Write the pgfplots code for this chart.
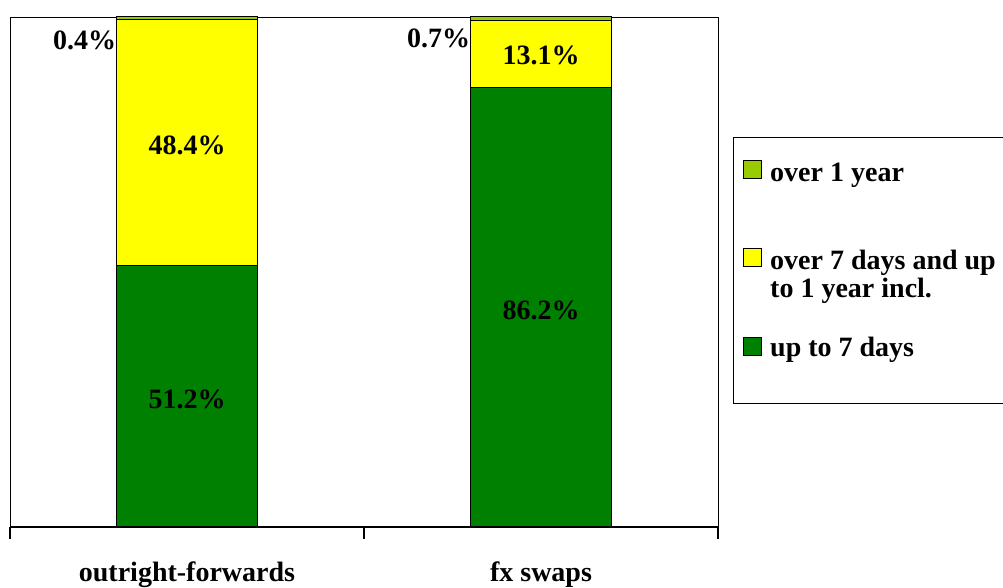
\documentclass[border=0pt]{standalone}
\usepackage{fontspec}
\setmainfont{Liberation Serif}
\usepackage{pgfplots}
\pgfplotsset{compat=1.18}
\definecolor{cgreen}{HTML}{008000}
\definecolor{cyellow}{HTML}{FFFF00}
\definecolor{clime}{HTML}{99CC00}
\newcommand\lblfont{\fontsize{28}{30}\selectfont\bfseries}
\begin{document}
\begin{tikzpicture}
\clip (0pt,0pt) rectangle (1003pt,588pt);
\begin{axis}[
  at={(10pt,61pt)}, anchor=south west,
  scale only axis, width=708pt, height=510pt,
  xmin=-0.5, xmax=1.5, ymin=0, ymax=100,
  ytick=\empty,
  xtick={-0.5,0.5,1.5}, xticklabels={},
  xtick pos=bottom, tick align=outside,
  major tick length=12pt,
  tick style={black, line width=2pt},
  axis line style={black, line width=0.8pt},
  ybar stacked, bar width=0.4,
  clip=false,
]
\addplot[fill=cgreen, draw=black, line width=1pt] coordinates {(0,51.2) (1,86.2)};
\addplot[fill=cyellow, draw=black, line width=1pt] coordinates {(0,48.4) (1,13.1)};
\addplot[fill=clime, draw=black, line width=1pt] coordinates {(0,0.4) (1,0.7)};
\draw[line width=2.6pt] (rel axis cs:0,0) -- (rel axis cs:1,0);
\coordinate (a1) at (axis cs:0,25.1);
\coordinate (a2) at (axis cs:0,74.9);
\coordinate (b1) at (axis cs:1,42.4);
\coordinate (b2) at (axis cs:1,92.4);
\coordinate (a3) at (axis cs:-0.2,100);
\coordinate (b3) at (axis cs:0.8,100);
\coordinate (ca) at (axis cs:0,0);
\coordinate (cb) at (axis cs:1,0);
\end{axis}
\node[font=\lblfont] at (a1) {51.2\%};
\node[font=\lblfont] at (a2) {48.4\%};
\node[font=\lblfont] at (b1) {86.2\%};
\node[font=\lblfont] at (b2) {13.1\%};
\node[font=\lblfont, anchor=east, inner sep=0pt, yshift=-23pt] at (a3) {0.4\%};
\node[font=\lblfont, anchor=east, inner sep=0pt, yshift=-21pt] at (a3 -| b3) {0.7\%};
\node[font=\lblfont, anchor=base] at (ca |- 0pt,6pt) {outright-forwards};
\node[font=\lblfont, anchor=base] at (cb |- 0pt,6pt) {fx swaps};
% legend
\draw[line width=0.8pt] (733pt,451pt) rectangle (1030pt,185pt);
\draw[fill=clime, line width=0.9pt] (743pt,410pt) rectangle ++(18pt,18pt);
\node[font=\lblfont, anchor=base west, inner sep=0pt] at (770pt,406pt) {over 1 year};
\draw[fill=cyellow, line width=0.9pt] (743pt,322pt) rectangle ++(18pt,18pt);
\node[font=\lblfont, anchor=base west, inner sep=0pt] at (770pt,318pt) {over 7 days and up};
\node[font=\lblfont, anchor=base west, inner sep=0pt] at (770pt,290pt) {to 1 year incl.};
\draw[fill=cgreen, line width=0.9pt] (743pt,233pt) rectangle ++(18pt,18pt);
\node[font=\lblfont, anchor=base west, inner sep=0pt] at (770pt,231pt) {up to 7 days};
\end{tikzpicture}
\end{document}
